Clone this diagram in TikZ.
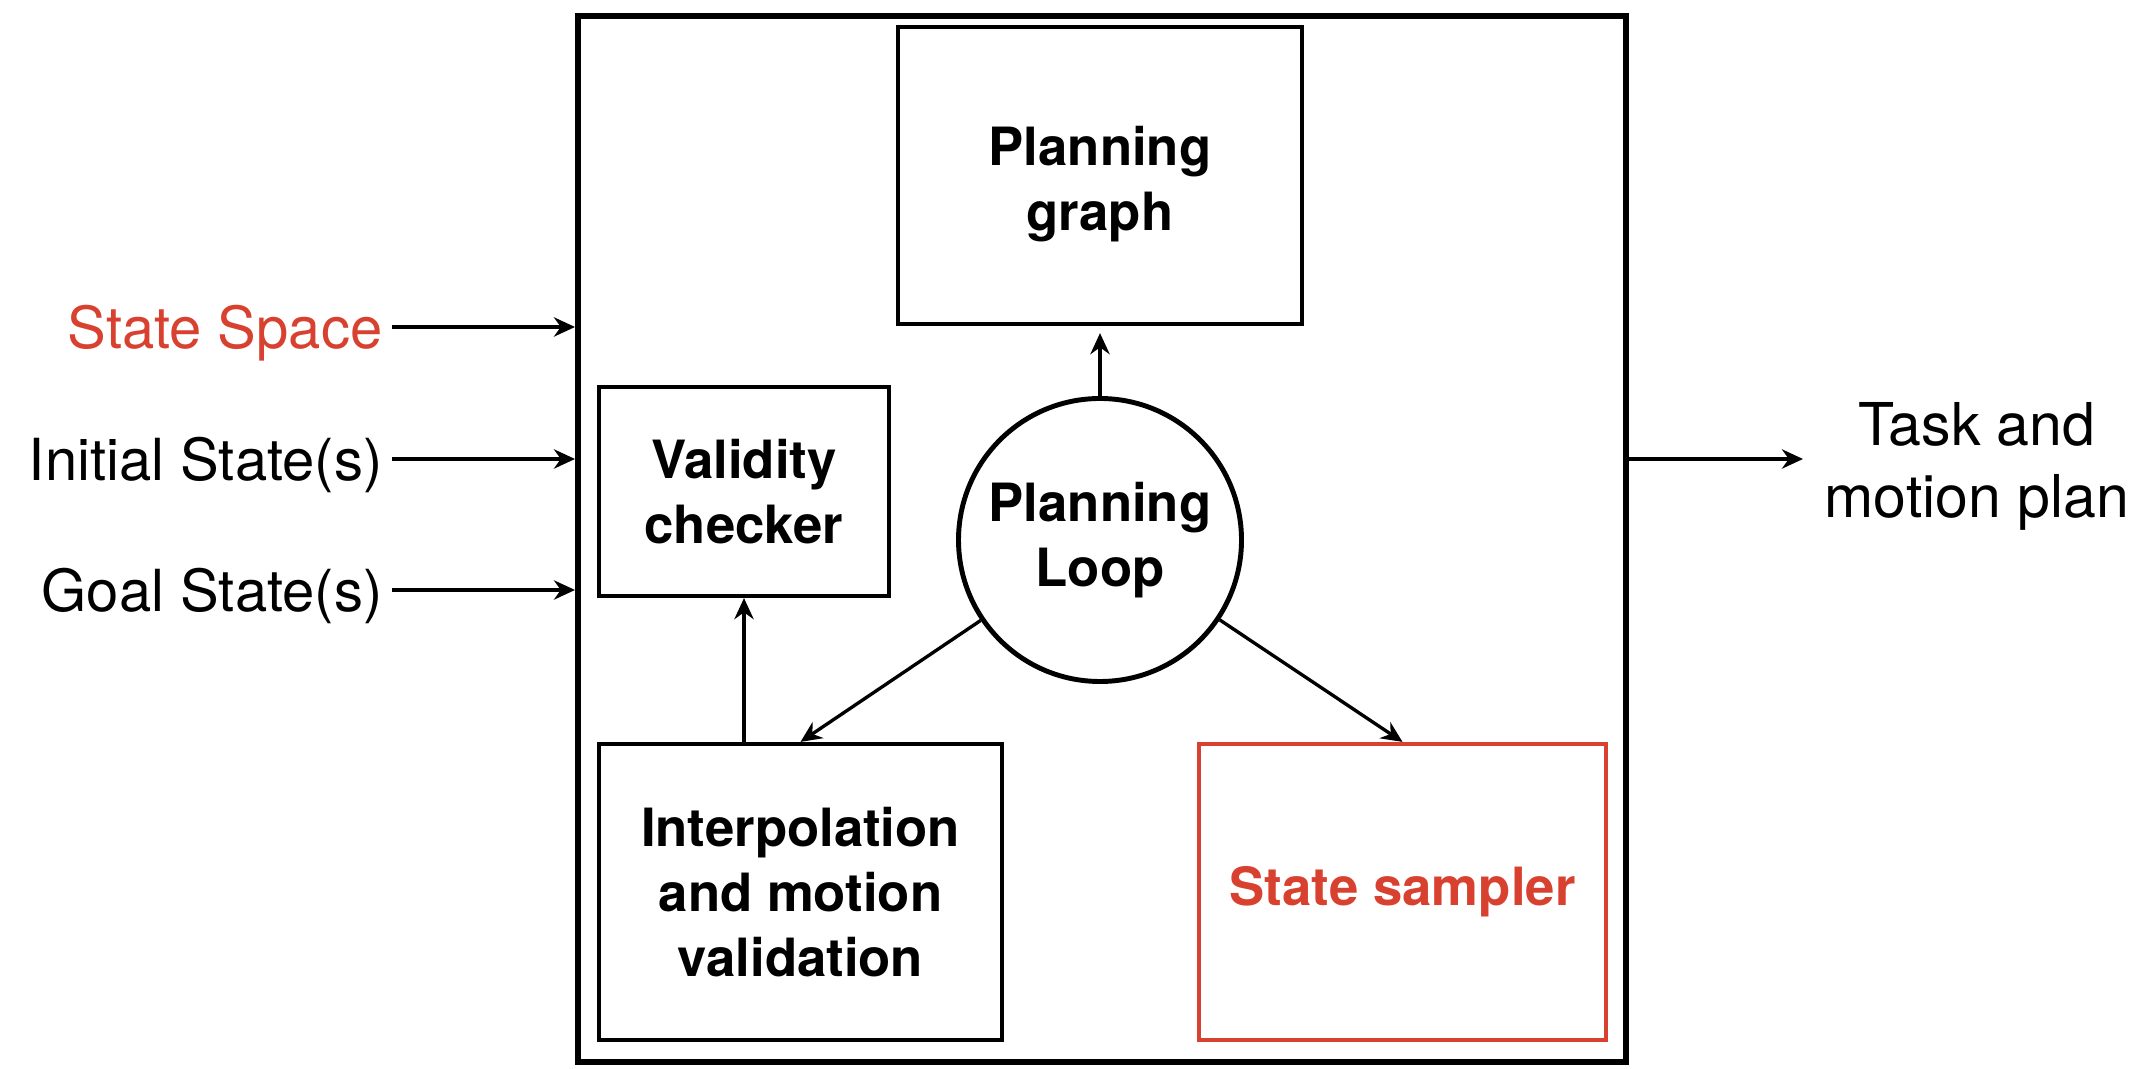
\documentclass[tikz,border=0pt]{standalone}
\usepackage{fontspec}
\setmainfont{TeX Gyre Heros}
\usepackage{xcolor}
\usetikzlibrary{positioning, arrows.meta}
\definecolor{ssred}{RGB}{216,65,47}

\begin{document}
\begin{tikzpicture}[
        block/.style={rectangle,draw=black,line width=1.2pt,align=center,
          font=\fontsize{15}{18.5}\selectfont\bfseries},
        loopnode/.style={circle,draw=black,line width=1.4pt,minimum size=2.83cm,
          inner sep=0pt,align=center,font=\fontsize{15}{18.5}\selectfont\bfseries},
        inlabel/.style={anchor=east,inner sep=0.08cm,text height=15pt,text depth=3pt,
          font=\fontsize{16.5}{19.5}\selectfont},
        outlabel/.style={anchor=west,inner sep=0.2cm,align=center,
          font=\fontsize{16.8}{20.5}\selectfont},
        >={Stealth[length=6pt,width=5.5pt]}, line width=0.95pt]

        \useasboundingbox (0,0) rectangle (21.34,-10.69);

        \node[draw,line width=1.7pt,minimum width=10.48cm,minimum height=10.46cm] (planner) at (11.02,-5.39) {};

        \node[block,minimum width=4.04cm,minimum height=2.97cm] (graph)   at (11.0,-1.755)  {\rule{0pt}{0.56cm}Planning\\graph};
        \node[block,minimum width=2.90cm,minimum height=2.09cm] (valid)   at (7.44,-4.915)  {Validity\\checker};
        \node[loopnode]                                         (loop)    at (11.0,-5.40)   {Planning\\Loop};
        \node[block,minimum width=4.03cm,minimum height=2.96cm] (interp)  at (8.005,-8.92)  {Interpolation\\and motion\\validation};
        \node[block,draw=ssred,text=ssred,minimum width=4.07cm,minimum height=2.96cm] (sampler) at (14.025,-8.92) {State sampler};

        \node[inlabel,text=ssred] (space) at (3.92,-3.27) {State Space};
        \node[inlabel]            (init)  at (3.92,-4.59) {Initial State(s)};
        \node[inlabel]            (goal)  at (3.92,-5.90) {Goal State(s)};
        \node[outlabel]           (plan)  at (18.03,-4.66) {Task and\\motion plan};

        % Inputs
        \draw[->] (space.east) -- (space.east -| planner.west);
        \draw[->] (init.east)  -- (init.east -| planner.west);
        \draw[->] (goal.east)  -- (goal.east -| planner.west);

        % Output
        \draw[->] (planner.east |- init.east) -- (plan.west |- init.east);

        % Planning loop
        \draw[->,shorten >=2pt] (loop) -- (graph);
        \draw[->] (loop) -- (interp.north);
        \draw[->] (loop) -- (sampler.north);
        \draw[->] (interp.north -| valid.south) -- (valid.south);
      \end{tikzpicture}
\end{document}
